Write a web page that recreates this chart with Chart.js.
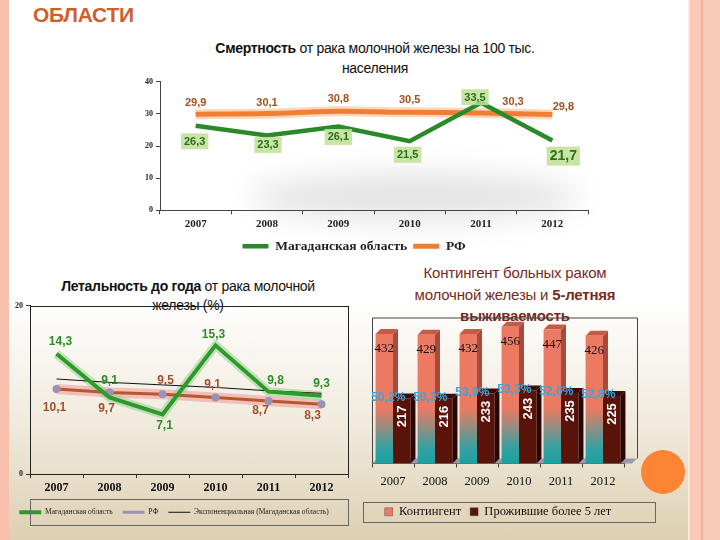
<!DOCTYPE html>
<html>
<head>
<meta charset="utf-8">
<script src="https://cdn.jsdelivr.net/npm/chart.js@4.4.1/dist/chart.umd.min.js"></script>
<style>
  html, body { margin: 0; padding: 0; }
  body {
    width: 720px; height: 540px; position: relative; overflow: hidden;
    background: linear-gradient(to bottom, #ffffff 0%, #ffffff 55%, #f1ebde 78%, #ddd0b2 100%);
    font-family: "Liberation Sans", Arial, sans-serif;
  }
  .abs { position: absolute; }
  .stripeL { left: 0; top: 0; width: 9px; height: 540px; background: #f7c0ac; }
  .stripeR {
    left: 688px; top: 0; width: 32px; height: 540px;
    background: linear-gradient(to right, #fde6dc 0 2px, #f9c8b6 2px 13px, #f1ae98 13px 15px, #f9c9b8 15px 100%);
  }
  .dot { left: 641px; top: 450px; width: 44px; height: 44px; border-radius: 50%; background: #fb8535; }
  .head { left: 33px; top: 3px; font-size: 21px; font-weight: bold; color: #d0602a; letter-spacing: -0.3px; }
  .t1 { left: 130px; top: 38px; width: 490px; text-align: center; font-size: 14px; line-height: 20px; color: #111; letter-spacing: -0.3px; }
  .t2 { left: 18px; top: 277px; width: 340px; text-align: center; font-size: 14px; line-height: 19px; color: #111; letter-spacing: -0.3px; }
  .t3 { left: 370px; top: 262px; width: 290px; text-align: center; font-size: 15px; line-height: 21.5px; color: #7a2a1c; letter-spacing: -0.2px; }
  .shadow { left: 250px; top: 172px; width: 330px; height: 50px; border-radius: 50%; background: rgba(0,0,0,0.10); filter: blur(14px); }
  canvas { position: absolute; }
</style>
</head>
<body>
<div class="abs stripeL"></div>
<div class="abs stripeR"></div>
<div class="abs dot"></div>
<div class="abs head">ОБЛАСТИ</div>
<div class="abs t1"><b>Смертность</b> от рака молочной железы на 100 тыс.<br>населения</div>
<div class="abs t2"><b>Летальность до года</b> от рака молочной<br>железы (%)</div>
<div class="abs t3">Контингент больных раком<br>молочной железы и <b>5-летняя</b><br><b>выживаемость</b></div>
<div class="abs shadow"></div>

<canvas id="mortality" width="480" height="189" style="left:120px; top:74px;"></canvas>
<canvas id="lethality" width="360" height="236" style="left:0px; top:298px;"></canvas>
<canvas id="contingent" width="300" height="228" style="left:360px; top:310px;"></canvas>

<script>
// --- data ---
const years = ['2007', '2008', '2009', '2010', '2011', '2012'];

const mortalityMagadan = [26.3, 23.3, 26.1, 21.5, 33.5, 21.7];
const mortalityRF = [29.9, 30.1, 30.8, 30.5, 30.3, 29.8];

const lethalityMagadan = [14.3, 9.1, 7.1, 15.3, 9.8, 9.3];
const lethalityRF = [10.1, 9.7, 9.5, 9.1, 8.7, 8.3];
const lethalityTrend = [11.3, 10.9, 10.6, 10.3, 9.9, 9.6];

const contingent = [432, 429, 432, 456, 447, 426];
const survivors = [217, 216, 233, 243, 235, 225];
const survivalPct = ['50,2%', '50,3%', '53,9%', '53,3%', '52,6%', '52,8%'];

const serif = '"Liberation Serif", "Times New Roman", serif';
const sans = '"Liberation Sans", Arial, sans-serif';

const fmt = v => String(v).replace('.', ',');

// draws value labels next to points, offsets come from dataset.valueLabels
const pointLabels = {
    id: 'pointLabels',
    afterDatasetsDraw(chart) {
        const ctx = chart.ctx;
        chart.data.datasets.forEach((ds, i) => {
            const cfg = ds.valueLabels;
            if (!cfg) return;
            const meta = chart.getDatasetMeta(i);
            meta.data.forEach((pt, j) => {
                const [dx, dy, big] = cfg.offsets[j];
                const text = fmt(ds.data[j]);
                const size = big ? cfg.bigSize : cfg.size;
                ctx.save();
                ctx.font = `bold ${size}px ${sans}`;
                ctx.textAlign = 'center';
                ctx.textBaseline = 'middle';
                const x = pt.x + dx, y = pt.y + dy;
                if (cfg.box) {
                    const w = ctx.measureText(text).width + 6;
                    ctx.fillStyle = cfg.box;
                    ctx.fillRect(x - w / 2, y - size / 2 - 3, w, size + 5);
                }
                ctx.fillStyle = cfg.color;
                ctx.fillText(text, x, y);
                ctx.restore();
            });
        });
    }
};

// thin frame around the legend block, centred on it
const legendFrame = {
    id: 'legendFrame',
    afterDraw(chart, args, opts) {
        if (!opts.on) return;
        const lg = chart.legend;
        const ctx = chart.ctx;
        const top = Math.round(lg.top + lg.height / 2 - opts.h / 2) + 0.5;
        ctx.save();
        ctx.strokeStyle = opts.color || '#555';
        ctx.lineWidth = 1;
        ctx.strokeRect(Math.round(opts.left) + 0.5, top, opts.width, opts.h);
        ctx.restore();
    }
};

// legend entries as short lines, glow helper datasets hidden
const lineLegend = chart =>
    Chart.defaults.plugins.legend.labels.generateLabels(chart)
        .filter(it => !it.text.startsWith('glow'))
        .map(it => Object.assign(it, { pointStyle: 'line' }));

// --- chart 1: mortality ---
new Chart(document.getElementById('mortality'), {
    type: 'line',
    data: {
        labels: years,
        datasets: [
            {
                label: 'Магаданская область', data: mortalityMagadan, borderColor: '#2a8a2a', backgroundColor: '#2a8a2a',
                borderWidth: 4.5, pointRadius: 0, order: -2,
                valueLabels: {
                    color: '#2c6e1c', box: 'rgba(190,225,150,0.85)', size: 11, bigSize: 14,
                    offsets: [[-1, 16], [1, 10], [0, 11], [-2, 14], [-6, -5], [11, 16, true]]
                }
            },
            {
                label: 'РФ', data: mortalityRF, borderColor: '#f07f35', backgroundColor: '#f07f35',
                borderWidth: 5, pointRadius: 0, tension: 0.3, order: -1,
                valueLabels: {
                    color: '#a2501c', size: 11, bigSize: 11,
                    offsets: [[0, -11], [0, -11], [0, -12], [0, -12], [32, -11], [11, -8]]
                }
            },
            {
                label: 'glowRF', data: mortalityRF, borderColor: 'rgba(250,190,140,0.6)',
                borderWidth: 10, pointRadius: 0, tension: 0.3, order: 0
            }
        ]
    },
    options: {
        responsive: false,
        animation: false,
        layout: { padding: { top: 2, right: 12, left: 0, bottom: 0 } },
        scales: {
            x: {
                offset: true,
                grid: { display: true, drawOnChartArea: false, offset: true, tickLength: 4, color: '#444' },
                border: { color: '#444' },
                ticks: { color: '#222', font: { family: serif, weight: 'bold', size: 11 }, padding: 3 }
            },
            y: {
                min: 0, max: 40,
                afterFit: s => { s.width = 40; },
                grid: { drawOnChartArea: false, tickLength: 4, color: '#444' },
                border: { color: '#444' },
                ticks: { stepSize: 10, color: '#222', font: { family: serif, weight: 'bold', size: 8 }, padding: 3 }
            }
        },
        plugins: {
            legend: {
                position: 'bottom',
                labels: {
                    generateLabels: lineLegend,
                    usePointStyle: true, pointStyleWidth: 26,
                    color: '#222', font: { family: serif, weight: 'bold', size: 13.5 }, padding: 6
                }
            },
            legendFrame: { on: false },
            tooltip: { enabled: false }
        }
    },
    plugins: [pointLabels, legendFrame]
});

// --- chart 2: lethality ---
new Chart(document.getElementById('lethality'), {
    type: 'line',
    data: {
        labels: years,
        datasets: [
            {
                label: 'Магаданская область', data: lethalityMagadan, borderColor: '#2e9a2e', backgroundColor: '#2e9a2e',
                borderWidth: 4, pointRadius: 0, order: -3,
                valueLabels: {
                    color: '#2e8a2a', size: 12, bigSize: 12,
                    offsets: [[4, -12], [0, -17], [2, 11], [-2, -11], [7, -11], [0, -12]]
                }
            },
            {
                label: 'РФ', data: lethalityRF, borderColor: '#b8582a', backgroundColor: '#b8582a',
                borderWidth: 3, pointRadius: 2.5, pointBackgroundColor: '#9a93b8', pointBorderColor: '#9a93b8',
                order: -2,
                valueLabels: {
                    color: '#a0502a', size: 12, bigSize: 12,
                    offsets: [[-2, 19], [-3, 16], [3, -13], [-3, -13], [-8, 10], [-9, 11]]
                }
            },
            {
                label: 'Экспоненциальная (Магаданская область)', data: lethalityTrend,
                borderColor: '#111', backgroundColor: '#111', borderWidth: 1, pointRadius: 0, order: -1
            },
            {
                label: 'glowM', data: lethalityMagadan, borderColor: 'rgba(150,210,140,0.55)',
                borderWidth: 9, pointRadius: 0, order: 0
            },
            {
                label: 'glowRF', data: lethalityRF, borderColor: 'rgba(240,170,170,0.7)',
                borderWidth: 10, pointRadius: 0, order: 0
            }
        ]
    },
    options: {
        responsive: false,
        animation: false,
        layout: { padding: { top: 2, right: 12, left: 0, bottom: 8 } },
        scales: {
            x: {
                offset: true,
                grid: { display: true, drawOnChartArea: false, offset: true, tickLength: 4, color: '#333' },
                border: { color: '#222' },
                ticks: { color: '#111', font: { family: serif, weight: 'bold', size: 12 }, padding: 3 }
            },
            y: {
                min: 0, max: 20,
                afterFit: s => { s.width = 30; },
                grid: { drawOnChartArea: false, tickLength: 4, color: '#333' },
                border: { color: '#222' },
                ticks: { stepSize: 20, color: '#222', font: { family: serif, weight: 'bold', size: 8 }, padding: 3 }
            }
        },
        plugins: {
            legend: {
                position: 'bottom',
                labels: {
                    generateLabels: lineLegend,
                    usePointStyle: true, pointStyleWidth: 22,
                    color: '#222', font: { family: serif, size: 7.5 }, padding: 10
                }
            },
            legendFrame: { on: true, left: 30, width: 318, h: 26, color: '#666' },
            tooltip: { enabled: false }
        }
    },
    plugins: [pointLabels, legendFrame, {
        id: 'plotBox',
        afterDraw(chart) {
            const a = chart.chartArea, ctx = chart.ctx;
            ctx.save();
            ctx.strokeStyle = '#222';
            ctx.lineWidth = 1;
            ctx.strokeRect(Math.round(a.left) + 0.5, Math.round(a.top) + 0.5, Math.round(a.width), Math.round(a.height));
            ctx.restore();
        }
    }]
});

// --- chart 3: contingent, 3D-looking bars ---
const depth = 5;
function barFaces(ctx, bar, side, top) {
    const half = bar.width / 2;
    ctx.fillStyle = side;
    ctx.beginPath();
    ctx.moveTo(bar.x + half, bar.y);
    ctx.lineTo(bar.x + half + depth, bar.y - depth);
    ctx.lineTo(bar.x + half + depth, bar.base - depth);
    ctx.lineTo(bar.x + half, bar.base);
    ctx.closePath();
    ctx.fill();
    ctx.fillStyle = top;
    ctx.beginPath();
    ctx.moveTo(bar.x - half, bar.y);
    ctx.lineTo(bar.x - half + depth, bar.y - depth);
    ctx.lineTo(bar.x + half + depth, bar.y - depth);
    ctx.lineTo(bar.x + half, bar.y);
    ctx.closePath();
    ctx.fill();
}

const bars3d = {
    id: 'bars3d',
    beforeDatasetsDraw(chart) {
        const ctx = chart.ctx, a = chart.chartArea;
        ctx.save();
        // frame and floor
        ctx.strokeStyle = '#444';
        ctx.lineWidth = 1;
        ctx.beginPath();
        ctx.moveTo(a.left + 0.5, a.bottom);
        ctx.lineTo(a.left + 0.5, a.top);
        ctx.lineTo(a.right + depth + 8.5, a.top);
        ctx.lineTo(a.right + depth + 8.5, a.bottom - depth);
        ctx.stroke();
        ctx.fillStyle = '#9a9aac';
        ctx.beginPath();
        ctx.moveTo(a.left, a.bottom);
        ctx.lineTo(a.left + depth, a.bottom - depth);
        ctx.lineTo(a.right + depth + 8, a.bottom - depth);
        ctx.lineTo(a.right + 8, a.bottom);
        ctx.closePath();
        ctx.fill();
        chart.getDatasetMeta(0).data.forEach(b => barFaces(ctx, b, '#a84a3c', '#c65a48'));
        ctx.restore();
    },
    afterDatasetsDraw(chart) {
        const ctx = chart.ctx;
        ctx.save();
        const front = chart.getDatasetMeta(0).data;
        const back = chart.getDatasetMeta(1).data;
        back.forEach(b => barFaces(ctx, b, '#2c0604', '#3e0a06'));
        // values of the contingent on the bar tops
        ctx.font = `13px ${serif}`;
        ctx.fillStyle = '#111';
        ctx.textAlign = 'center';
        ctx.textBaseline = 'middle';
        front.forEach((b, j) => ctx.fillText(String(contingent[j]), b.x, b.y + 15));
        // survivors, rotated inside the dark bars
        back.forEach((b, j) => {
            ctx.save();
            ctx.translate(b.x + 1, b.y + 18);
            ctx.rotate(-Math.PI / 2);
            ctx.font = `bold 13px ${sans}`;
            ctx.fillStyle = '#fff';
            ctx.fillText(String(survivors[j]), 0, 0);
            ctx.restore();
        });
        // survival percentage
        ctx.font = `bold 12px ${sans}`;
        ctx.fillStyle = '#3aa4dc';
        back.forEach((b, j) => ctx.fillText(survivalPct[j], front[j].x + 4, b.y - 1));
        ctx.restore();
    }
};

new Chart(document.getElementById('contingent'), {
    type: 'bar',
    data: {
        labels: years,
        datasets: [
            {
                label: 'Контингент', data: contingent,
                backgroundColor: ctx => {
                    const a = ctx.chart.chartArea;
                    if (!a) return '#ec7a63';
                    const g = ctx.chart.ctx.createLinearGradient(0, a.bottom, 0, a.bottom - 55);
                    g.addColorStop(0, '#17a3a3');
                    g.addColorStop(0.3, '#3aa0a0');
                    g.addColorStop(1, '#ec7a63');
                    return g;
                },
                borderWidth: 0,
                categoryPercentage: 0.83, barPercentage: 1
            },
            {
                label: 'Прожившие более 5 лет', data: survivors,
                backgroundColor: '#5a1309', borderWidth: 0,
                categoryPercentage: 0.83, barPercentage: 1
            }
        ]
    },
    options: {
        responsive: false,
        animation: false,
        layout: { padding: { top: 8, right: 36, left: 12, bottom: 10 } },
        scales: {
            x: {
                grid: { display: true, drawOnChartArea: false, offset: true, tickLength: 4, color: '#444' },
                border: { color: '#444' },
                ticks: { color: '#111', font: { family: serif, size: 12.5 }, padding: 7 }
            },
            y: {
                display: false, min: 0, max: 485
            }
        },
        plugins: {
            legend: {
                position: 'bottom',
                labels: {
                    boxWidth: 8, boxHeight: 8,
                    generateLabels: chart => chart.data.datasets.map((ds, i) => ({
                        text: ds.label,
                        fillStyle: i === 0 ? '#ec7a63' : '#5a1309',
                        strokeStyle: '#555', lineWidth: 0.5, datasetIndex: i, fontColor: '#111'
                    })),
                    color: '#111', font: { family: serif, size: 12.5 }, padding: 9
                }
            },
            legendFrame: { on: true, left: 3, width: 292, h: 20, color: '#666' },
            tooltip: { enabled: false }
        }
    },
    plugins: [bars3d, legendFrame]
});
</script>
</body>
</html>
